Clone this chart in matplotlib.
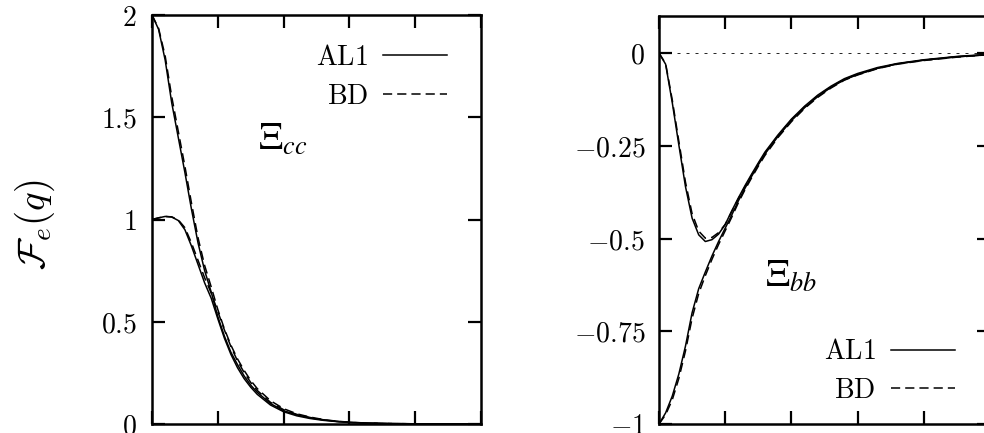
import matplotlib
matplotlib.use("Agg")
import matplotlib.pyplot as plt
from matplotlib.ticker import FixedLocator, FixedFormatter, NullFormatter

plt.rcParams['mathtext.fontset'] = 'cm'
plt.rcParams['font.family'] = ['DejaVu Serif']

# ---------------- data ----------------
q = [0.0, 0.1, 0.2, 0.3, 0.4, 0.5, 0.6, 0.7, 0.8, 0.9, 1.0, 1.1, 1.2, 1.3, 1.4,
     1.5, 1.6, 1.8, 2.0, 2.2, 2.4, 2.6, 2.8, 3.0, 3.3, 3.6, 4.0, 4.5, 5.0]

# Xi_cc panel
cc_top_al1 = [2.0, 1.93, 1.78, 1.57, 1.40, 1.23, 1.05, 0.885, 0.75, 0.645, 0.525, 0.43,
              0.35, 0.29, 0.235, 0.19, 0.155, 0.10, 0.065, 0.045, 0.03, 0.02, 0.013,
              0.008, 0.004, 0.002, 0.001, 0.0, 0.0]
cc_top_bd = [2.0, 1.935, 1.80, 1.60, 1.43, 1.26, 1.08, 0.91, 0.775, 0.67, 0.56, 0.465,
             0.385, 0.318, 0.262, 0.213, 0.173, 0.114, 0.075, 0.05, 0.034, 0.022, 0.014,
             0.009, 0.004, 0.002, 0.001, 0.0, 0.0]
cc_low_al1 = [1.0, 1.008, 1.015, 1.012, 0.995, 0.95, 0.87, 0.78, 0.69, 0.615, 0.515,
              0.42, 0.34, 0.275, 0.222, 0.18, 0.145, 0.093, 0.06, 0.04, 0.027, 0.018,
              0.012, 0.007, 0.004, 0.002, 0.001, 0.0, 0.0]
cc_low_bd = [1.0, 1.008, 1.015, 1.013, 0.998, 0.96, 0.885, 0.80, 0.715, 0.64, 0.55,
             0.46, 0.378, 0.308, 0.252, 0.203, 0.164, 0.106, 0.07, 0.047, 0.032, 0.021,
             0.013, 0.008, 0.004, 0.002, 0.001, 0.0, 0.0]

# Xi_bb panel
bb_up_al1 = [0.0, -0.03, -0.133, -0.248, -0.36, -0.445, -0.49, -0.508, -0.503, -0.488,
             -0.462, -0.425, -0.39, -0.357, -0.326, -0.296, -0.267, -0.22, -0.178,
             -0.143, -0.113, -0.089, -0.069, -0.055, -0.039, -0.028, -0.018, -0.009, -0.003]
bb_up_bd = [0.0, -0.028, -0.126, -0.238, -0.348, -0.433, -0.48, -0.499, -0.497, -0.484,
            -0.462, -0.427, -0.392, -0.36, -0.329, -0.299, -0.27, -0.222, -0.18,
            -0.145, -0.115, -0.091, -0.071, -0.057, -0.041, -0.029, -0.019, -0.01, -0.004]
bb_low_al1 = [-1.0, -0.97, -0.925, -0.865, -0.79, -0.70, -0.635, -0.59, -0.547, -0.508,
              -0.472, -0.436, -0.398, -0.364, -0.332, -0.301, -0.272, -0.224, -0.182,
              -0.147, -0.117, -0.092, -0.072, -0.058, -0.041, -0.029, -0.019, -0.01, -0.004]
bb_low_bd = [-1.0, -0.975, -0.935, -0.877, -0.803, -0.715, -0.648, -0.6, -0.556, -0.516,
             -0.479, -0.442, -0.403, -0.368, -0.336, -0.305, -0.276, -0.227, -0.185,
             -0.149, -0.119, -0.094, -0.073, -0.059, -0.042, -0.030, -0.020, -0.011, -0.004]

zero_line = [0.0, 0.0]
zero_q = [0.0, 5.0]

cc_yticks = [0, 0.5, 1, 1.5, 2]
cc_ylabels = ['$0$', '$0.5$', '$1$', '$1.5$', '$2$']
bb_yticks = [-1, -0.75, -0.5, -0.25, 0]
bb_ylabels = ['$-1$', '$-0.75$', '$-0.5$', '$-0.25$', '$0$']
xticks = [0, 1, 2, 3, 4, 5]

# ---------------- figure ----------------
W, H = 984, 433
fig = plt.figure(figsize=(W / 100, H / 100), dpi=100)
ax1 = fig.add_axes([152 / W, 9 / H, 329 / W, 409 / H])
ax2 = fig.add_axes([659 / W, 9 / H, 331 / W, 408 / H])

lw = 1.1
dash = (0, (6.0, 3.3))
FS = 20

def style(ax, yticks, ylabels, ylim, pad):
    ax.set_xlim(0, 5)
    ax.set_ylim(*ylim)
    ax.xaxis.set_major_locator(FixedLocator(xticks))
    ax.xaxis.set_major_formatter(NullFormatter())
    ax.yaxis.set_major_locator(FixedLocator(yticks))
    ax.yaxis.set_major_formatter(FixedFormatter(ylabels))
    ax.tick_params(direction='in', length=9.5, width=1.6, top=True, right=True,
                   labelsize=FS, pad=pad)
    ax.tick_params(axis='x', labelbottom=False)
    for s in ax.spines.values():
        s.set_linewidth(1.8)

style(ax1, cc_yticks, cc_ylabels, (0, 2), 11)
style(ax2, bb_yticks, bb_ylabels, (-1, 0.1), 10)

# left panel
l1, = ax1.plot(q, cc_top_al1, color='black', lw=lw, label=r'$\mathrm{AL1}$')
l2, = ax1.plot(q, cc_top_bd, color='black', lw=lw, ls=dash, label=r'$\mathrm{BD}$')
ax1.plot(q, cc_low_al1, color='black', lw=lw)
ax1.plot(q, cc_low_bd, color='black', lw=lw, ls=dash)
ax1.legend(handles=[l1, l2], loc='upper right', bbox_to_anchor=(0.897, 0.93),
           frameon=False, markerfirst=False, fontsize=FS, handlelength=2.3,
           handletextpad=0.55, labelspacing=0.45, borderpad=0, borderaxespad=0)
ax1.text(0.322, 0.67, r'$\Xi_{cc}$', transform=ax1.transAxes, fontsize=27,
         math_fontfamily='stix', ha='left', va='baseline')

# right panel
ax2.plot(zero_q, zero_line, color='black', lw=0.6, ls=(0, (3.6, 7.2)))
r1, = ax2.plot(q, bb_up_al1, color='black', lw=lw, label=r'$\mathrm{AL1}$')
r2, = ax2.plot(q, bb_up_bd, color='black', lw=lw, ls=dash, label=r'$\mathrm{BD}$')
ax2.plot(q, bb_low_al1, color='black', lw=lw)
ax2.plot(q, bb_low_bd, color='black', lw=lw, ls=dash)
ax2.legend(handles=[r1, r2], loc='lower right', bbox_to_anchor=(0.894, 0.05),
           frameon=False, markerfirst=False, fontsize=FS, handlelength=2.3,
           handletextpad=0.55, labelspacing=0.4, borderpad=0, borderaxespad=0)
ax2.text(0.32, 0.336, r'$\Xi_{bb}$', transform=ax2.transAxes, fontsize=27,
         math_fontfamily='stix', ha='left', va='baseline')

fig.text(35 / W, 1 - 225 / H, r'$\mathcal{F}_e(q)$', rotation=90, fontsize=28,
         ha='center', va='center')

fig.savefig('out.png', dpi=100)
